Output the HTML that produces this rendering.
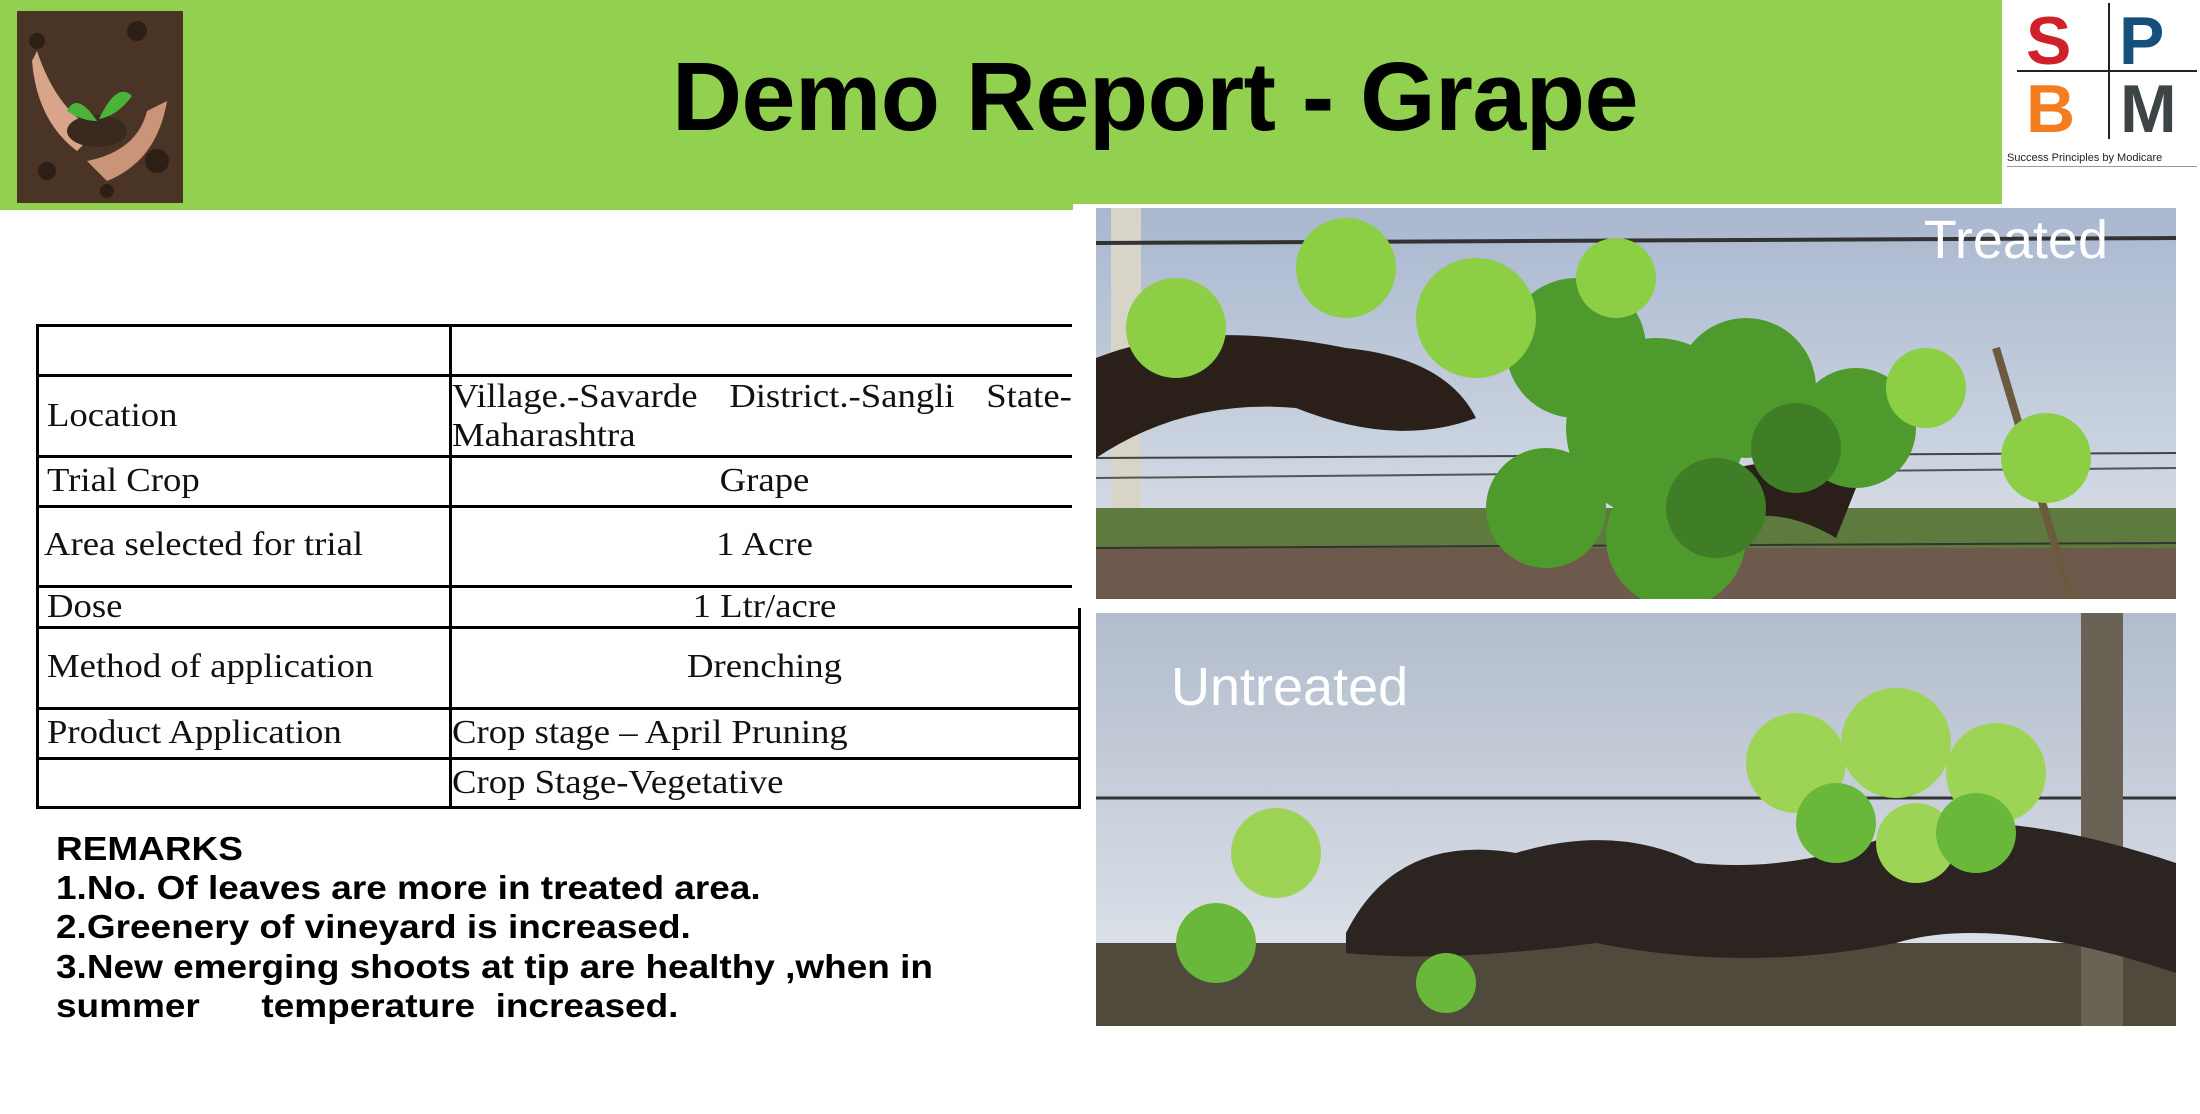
<!DOCTYPE html>
<html><head><meta charset="utf-8">
<style>
*{margin:0;padding:0;box-sizing:border-box}
body{width:2200px;height:1114px;background:#fff;position:relative;overflow:hidden;font-family:"Liberation Sans",sans-serif}
.abs{position:absolute}
.cell{position:absolute;font-family:"Liberation Serif",serif;font-size:34px;color:#111;white-space:nowrap;transform:scaleX(1.08);transform-origin:left center}
.cell.c{transform-origin:center center}
.h{position:absolute;height:3px;background:#000}
.v{position:absolute;width:3px;background:#000}
.rem{position:absolute;left:56px;font-weight:bold;font-size:33px;color:#000;white-space:pre;transform:scaleX(1.12);transform-origin:left center}
</style></head><body>
<div class="abs" style="left:0;top:0;width:2002px;height:204px;background:#92d050"></div>
<div class="abs" style="left:0;top:200px;width:1073px;height:10px;background:#92d050"></div>
<svg class="abs" style="left:17px;top:11px" width="166" height="192" viewBox="0 0 166 192">
<rect width="166" height="192" fill="#4a3426"/>
<g fill="#2e1f16"><circle cx="20" cy="30" r="8"/><circle cx="120" cy="20" r="10"/><circle cx="140" cy="150" r="12"/><circle cx="30" cy="160" r="9"/><circle cx="90" cy="180" r="7"/></g>
<path d="M20 40 Q40 100 80 120 L60 140 Q20 110 15 50Z" fill="#d9a58a"/>
<path d="M150 90 Q140 150 90 170 L70 150 Q120 140 130 100Z" fill="#c99478"/>
<ellipse cx="80" cy="120" rx="30" ry="16" fill="#3a2a1d"/>
<path d="M80 110 Q60 80 50 100 Q65 110 80 110Z M82 108 Q100 70 115 85 Q100 105 82 108Z" fill="#4cb33a"/>
</svg>
<div class="abs" style="left:0;width:2310px;top:42px;text-align:center;font-weight:bold;font-size:97px;line-height:110px;color:#000;letter-spacing:-0.5px">Demo Report - Grape</div>
<div class="abs" style="left:2002px;top:0;width:198px;height:170px">
 <div class="abs" style="left:106px;top:3px;width:2px;height:136px;background:#222"></div>
 <div class="abs" style="left:15px;top:70px;width:180px;height:2px;background:#222"></div>
 <div class="abs" style="left:24px;top:2px;font-weight:bold;font-size:68px;color:#d0202a">S</div>
 <div class="abs" style="left:117px;top:2px;font-weight:bold;font-size:68px;color:#14507a">P</div>
 <div class="abs" style="left:24px;top:70px;font-weight:bold;font-size:68px;color:#f47d20">B</div>
 <div class="abs" style="left:118px;top:70px;font-weight:bold;font-size:68px;color:#3c4446">M</div>
 <div class="abs" style="left:5px;top:152px;font-size:11px;color:#222;white-space:nowrap">Success Principles by Modicare</div>
 <div class="abs" style="left:5px;top:166px;width:190px;height:1px;background:#999"></div>
</div>

<svg class="abs" style="left:1096px;top:208px" width="1080" height="391" viewBox="0 0 1080 391">
<defs><linearGradient id="sk1" x1="0" y1="0" x2="0" y2="1"><stop offset="0" stop-color="#a9b7cf"/><stop offset="1" stop-color="#dfe4ea"/></linearGradient></defs>
<rect width="1080" height="391" fill="url(#sk1)"/>
<rect y="300" width="1080" height="60" fill="#5f7a3e"/>
<rect y="340" width="1080" height="51" fill="#6e5a4c"/>
<rect x="15" y="0" width="30" height="300" fill="#d8d4c8"/>
<line x1="0" y1="35" x2="1080" y2="30" stroke="#333" stroke-width="4"/>
<line x1="0" y1="340" x2="1080" y2="335" stroke="#333" stroke-width="2"/>
<line x1="0" y1="250" x2="1080" y2="245" stroke="#444" stroke-width="2"/>
<line x1="0" y1="270" x2="1080" y2="260" stroke="#555" stroke-width="2"/>
<line x1="900" y1="140" x2="975" y2="391" stroke="#6b5a3e" stroke-width="8"/>
<path d="M0 150 Q100 110 250 140 Q350 150 380 210 Q300 240 200 200 Q90 190 0 250Z" fill="#2a2019"/>
<path d="M640 260 Q720 240 760 280 L740 330 Q690 300 640 310Z" fill="#2a2019"/>
<g fill="#4f9a2c"><circle cx="480" cy="140" r="70"/><circle cx="560" cy="220" r="90"/><circle cx="650" cy="180" r="70"/><circle cx="760" cy="220" r="60"/><circle cx="450" cy="300" r="60"/><circle cx="580" cy="330" r="70"/></g>
<g fill="#8ccf45"><circle cx="250" cy="60" r="50"/><circle cx="380" cy="110" r="60"/><circle cx="80" cy="120" r="50"/><circle cx="830" cy="180" r="40"/><circle cx="950" cy="250" r="45"/><circle cx="520" cy="70" r="40"/></g>
<g fill="#3f7d26"><circle cx="620" cy="300" r="50"/><circle cx="700" cy="240" r="45"/></g>
<text x="1012" y="50" text-anchor="end" font-family="Liberation Sans, sans-serif" font-size="54" fill="#fff">Treated</text>
</svg>

<svg class="abs" style="left:1096px;top:613px" width="1080" height="413" viewBox="0 0 1080 413">
<defs><linearGradient id="sk2" x1="0" y1="0" x2="0" y2="1"><stop offset="0" stop-color="#b2bccc"/><stop offset="1" stop-color="#e4e8ee"/></linearGradient></defs>
<rect width="1080" height="413" fill="url(#sk2)"/>
<rect y="330" width="1080" height="83" fill="#4f4a3c"/>
<line x1="0" y1="185" x2="1080" y2="185" stroke="#333" stroke-width="3"/>
<rect x="985" y="0" width="42" height="413" fill="#6a6254"/>
<path d="M250 320 Q300 220 420 240 Q520 210 600 250 Q700 260 800 220 Q900 190 1080 250 L1080 360 Q900 300 800 330 Q650 360 500 330 Q350 350 250 340Z" fill="#2b2420"/>
<g fill="#9ed455"><circle cx="700" cy="150" r="50"/><circle cx="800" cy="130" r="55"/><circle cx="900" cy="160" r="50"/><circle cx="180" cy="240" r="45"/><circle cx="820" cy="230" r="40"/></g>
<g fill="#69b83a"><circle cx="740" cy="210" r="40"/><circle cx="880" cy="220" r="40"/><circle cx="120" cy="330" r="40"/><circle cx="350" cy="370" r="30"/></g>
<text x="75" y="92" font-family="Liberation Sans, sans-serif" font-size="54" fill="#fff">Untreated</text>
</svg>

<div>
<div class="h" style="left:36px;top:324px;width:1036px"></div>
<div class="h" style="left:36px;top:374px;width:1036px"></div>
<div class="h" style="left:36px;top:455px;width:1036px"></div>
<div class="h" style="left:36px;top:505px;width:1036px"></div>
<div class="h" style="left:36px;top:585px;width:1036px"></div>
<div class="h" style="left:36px;top:626px;width:1045px"></div>
<div class="h" style="left:36px;top:707px;width:1045px"></div>
<div class="h" style="left:36px;top:757px;width:1045px"></div>
<div class="h" style="left:36px;top:806px;width:1045px"></div>
<div class="v" style="left:36px;top:324px;height:485px"></div>
<div class="v" style="left:449px;top:324px;height:485px"></div>
<div class="v" style="left:1078px;top:608px;height:201px"></div>
<div class="cell" style="left:47px;top:397px">Location</div>
<div class="cell" style="left:452px;top:377px;width:574px;white-space:normal;text-align:justify;text-align-last:justify;line-height:40px">Village.-Savarde District.-Sangli State-</div>
<div class="cell" style="left:452px;top:416px;line-height:40px">Maharashtra</div>
<div class="cell" style="left:47px;top:462px">Trial Crop</div>
<div class="cell c" style="left:452px;top:462px;width:625px;text-align:center">Grape</div>
<div class="cell" style="left:44px;top:526px">Area selected for trial</div>
<div class="cell c" style="left:452px;top:526px;width:625px;text-align:center">1 Acre</div>
<div class="cell" style="left:47px;top:588px">Dose</div>
<div class="cell c" style="left:452px;top:588px;width:625px;text-align:center">1 Ltr/acre</div>
<div class="cell" style="left:47px;top:648px">Method of application</div>
<div class="cell c" style="left:452px;top:648px;width:625px;text-align:center">Drenching</div>
<div class="cell" style="left:47px;top:714px">Product Application</div>
<div class="cell" style="left:452px;top:714px">Crop stage – April Pruning</div>
<div class="cell" style="left:452px;top:764px">Crop Stage-Vegetative</div>
</div>

<div>
<div class="rem" style="top:830px">REMARKS</div>
<div class="rem" style="top:869px">1.No. Of leaves are more in treated area.</div>
<div class="rem" style="top:908px">2.Greenery of vineyard is increased.</div>
<div class="rem" style="top:948px">3.New emerging shoots at tip are healthy ,when in</div>
<div class="rem" style="top:987px">summer      temperature  increased.</div>
</div>
</body></html>
